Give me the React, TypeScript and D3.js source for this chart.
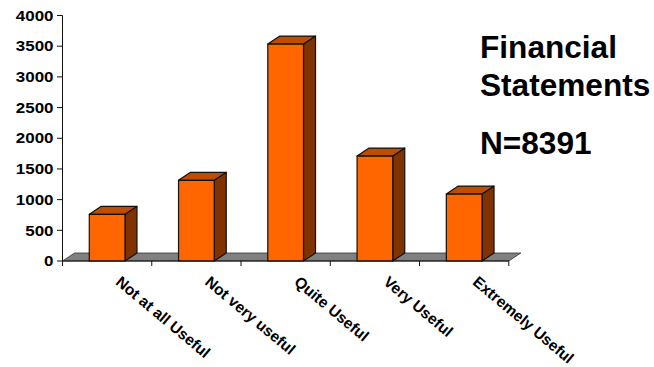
import React from "react";
import * as d3 from "d3";

const categories = ["Not at all Useful", "Not very useful", "Quite Useful", "Very Useful", "Extremely Useful"];
const counts = [760, 1315, 3535, 1710, 1090];
const yTicks = [0, 500, 1000, 1500, 2000, 2500, 3000, 3500, 4000];
const titleLines = ["Financial", "Statements"];
const sampleLabel = "N=8391";

const FONT = "'Liberation Sans', Arial, sans-serif";
const DEPTH_X = 12;
const DEPTH_Y = 8;

export default function App() {
  const y = d3.scaleLinear().domain([0, 4000]).range([261, 15.5]);
  const x = d3.scaleBand<string>().domain(categories).range([62.5, 508.8]).paddingInner(0.6).paddingOuter(0.3);
  const slotEdges = d3.range(categories.length + 1).map((i) => 62.5 + (i * (508.8 - 62.5)) / categories.length);
  const base = y(0);
  const left = x.range()[0];
  const right = x.range()[1];

  const floor = d3.path();
  floor.moveTo(left, base);
  floor.lineTo(left + DEPTH_X, base - DEPTH_Y);
  floor.lineTo(right + DEPTH_X, base - DEPTH_Y);
  floor.lineTo(right, base);
  floor.closePath();

  return (
    <svg
      width={654}
      height={367}
      style={{ position: "absolute", left: 0, top: 0, background: "#fff" }}
      fontFamily={FONT}
      fontWeight="bold"
    >
      <path d={floor.toString()} fill="#808080" stroke="#333" strokeWidth={0.8} />

      {categories.map((c, i) => {
        const bx = x(c)!;
        const w = x.bandwidth();
        const top = y(counts[i]);
        return (
          <g key={c} stroke="#111" strokeWidth={1.2} strokeLinejoin="round">
            <polygon
              points={`${bx + w},${top} ${bx + w + DEPTH_X},${top - DEPTH_Y} ${bx + w + DEPTH_X},${base - DEPTH_Y} ${bx + w},${base}`}
              fill="#803300"
            />
            <polygon
              points={`${bx},${top} ${bx + DEPTH_X},${top - DEPTH_Y} ${bx + w + DEPTH_X},${top - DEPTH_Y} ${bx + w},${top}`}
              fill="#BF4D00"
            />
            <rect x={bx} y={top} width={w} height={base - top} fill="#FF6600" />
          </g>
        );
      })}

      <line x1={left} x2={left} y1={y(4000)} y2={base} stroke="#111" strokeWidth={1} />
      <line x1={left} x2={right} y1={base} y2={base} stroke="#111" strokeWidth={1.2} />
      {yTicks.map((t) => (
        <g key={t}>
          <line x1={left - 5.5} x2={left} y1={y(t)} y2={y(t)} stroke="#111" strokeWidth={1} />
          {/* tick numerals are set slightly wide */}
          <text transform={`translate(53.5,${y(t) + 5.2}) scale(1.13,1)`} textAnchor="end" fontSize={15} fill="#000">
            {t}
          </text>
        </g>
      ))}
      {slotEdges.map((e) => (
        <line key={e} x1={e} x2={e} y1={base} y2={base + 5} stroke="#111" strokeWidth={1} />
      ))}

      {categories.map((c) => {
        const tx = x(c)! + 25.5;
        return (
          <text key={c} transform={`translate(${tx},283.5) rotate(40)`} fontSize={15.5} fill="#000">
            {c}
          </text>
        );
      })}

      <g fontSize={31.6} fill="#000">
        {titleLines.map((t, i) => (
          <text key={t} x={480} y={58 + i * 38}>
            {t}
          </text>
        ))}
        <text x={480} y={154}>
          {sampleLabel}
        </text>
      </g>
    </svg>
  );
}
